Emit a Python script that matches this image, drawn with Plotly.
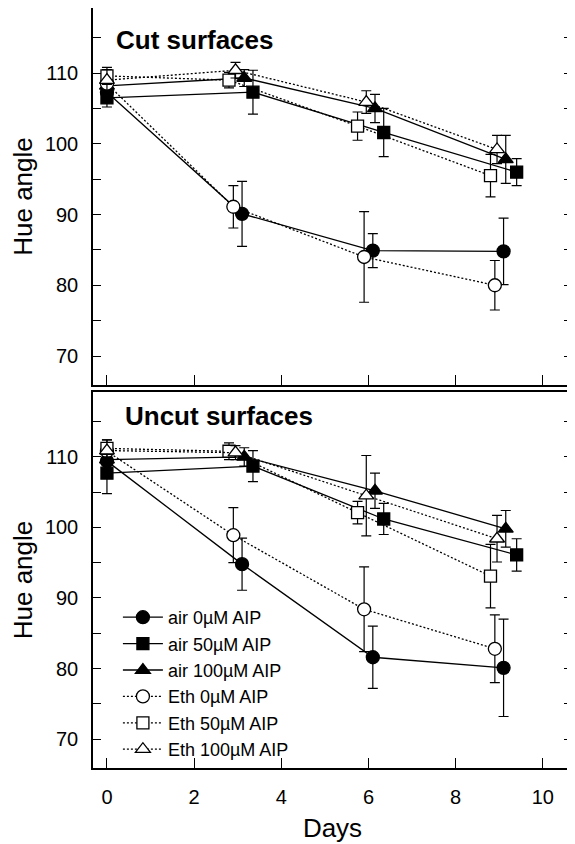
import plotly.graph_objects as go

# ---------------- data ----------------
series_names = ["air 0µM AIP", "air 50µM AIP", "air 100µM AIP",
                "Eth 0µM AIP", "Eth 50µM AIP", "Eth 100µM AIP"]

# days (slightly offset per series as in the original)
days_air0 = [0, 3.1, 6.1, 9.1]
days_air50 = [0, 3.35, 6.35, 9.4]
days_air100 = [0, 3.15, 6.15, 9.15]
days_eth0 = [0, 2.9, 5.9, 8.9]
days_eth50 = [0, 2.8, 5.75, 8.8]
days_eth100 = [0, 2.95, 5.95, 8.95]

# Cut surfaces
cut_air0 = [107.3, 90.1, 84.9, 84.8]
cut_air0_se = [1.5, 4.6, 2.4, 4.7]
cut_air50 = [106.5, 107.3, 101.6, 96.0]
cut_air50_se = [1.3, 3.1, 3.4, 1.9]
cut_air100 = [108.2, 109.3, 105.0, 97.8]
cut_air100_se = [1.2, 1.2, 2.0, 3.4]
cut_eth0 = [108.5, 91.1, 84.0, 80.0]
cut_eth0_se = [1.0, 3.0, 6.4, 3.5]
cut_eth50 = [109.6, 109.0, 102.5, 95.5]
cut_eth50_se = [1.2, 1.1, 2.0, 3.0]
cut_eth100 = [109.0, 110.4, 105.9, 99.2]
cut_eth100_se = [1.5, 1.1, 1.6, 2.0]

# Uncut surfaces
uncut_air0 = [109.4, 94.8, 81.6, 80.1]
uncut_air0_se = [1.5, 3.7, 4.4, 6.9]
uncut_air50 = [107.7, 108.7, 101.2, 96.1]
uncut_air50_se = [2.9, 2.2, 2.2, 2.3]
uncut_air100 = [109.6, 110.0, 105.2, 99.8]
uncut_air100_se = [1.5, 1.3, 2.5, 2.6]
uncut_eth0 = [110.8, 98.9, 88.4, 82.8]
uncut_eth0_se = [1.2, 3.9, 6.0, 4.8]
uncut_eth50 = [111.2, 110.8, 102.1, 93.1]
uncut_eth50_se = [1.2, 1.2, 1.6, 4.5]
uncut_eth100 = [110.9, 110.6, 104.5, 98.4]
uncut_eth100_se = [1.5, 1.0, 5.7, 3.3]

y_ticks = [70, 80, 90, 100, 110]
y_minor = [75, 85, 95, 105, 115]
x_ticks = [0, 2, 4, 6, 8, 10]

FONT = "Arial, 'Liberation Sans', Helvetica, sans-serif"

styles = [
    dict(symbol="circle", fill="black", dash="solid"),
    dict(symbol="square", fill="black", dash="solid"),
    dict(symbol="triangle-up", fill="black", dash="solid"),
    dict(symbol="circle", fill="white", dash="2px,2px"),
    dict(symbol="square", fill="white", dash="2px,2px"),
    dict(symbol="triangle-up", fill="white", dash="2px,2px"),
]
sizes = [13, 12, 13, 13, 12, 13]

days_all = [days_air0, days_air50, days_air100, days_eth0, days_eth50, days_eth100]
cut_all = [(cut_air0, cut_air0_se), (cut_air50, cut_air50_se), (cut_air100, cut_air100_se),
           (cut_eth0, cut_eth0_se), (cut_eth50, cut_eth50_se), (cut_eth100, cut_eth100_se)]
uncut_all = [(uncut_air0, uncut_air0_se), (uncut_air50, uncut_air50_se), (uncut_air100, uncut_air100_se),
             (uncut_eth0, uncut_eth0_se), (uncut_eth50, uncut_eth50_se), (uncut_eth100, uncut_eth100_se)]

fig = go.Figure()

for panel, data, xa, ya in [("cut", cut_all, "x", "y"), ("uncut", uncut_all, "x2", "y2")]:
    for i, (vals, se) in enumerate(data):
        st = styles[i]
        fig.add_trace(go.Scatter(
            x=days_all[i], y=vals, xaxis=xa, yaxis=ya,
            mode="lines+markers",
            name=series_names[i],
            showlegend=(panel == "uncut"),
            line=dict(color="black", width=1.3, dash=st["dash"]),
            marker=dict(symbol=st["symbol"], size=sizes[i], color=st["fill"],
                        line=dict(color="black", width=1.3)),
            error_y=dict(type="data", array=se, visible=True, color="black",
                         thickness=1.2, width=5),
        ))

# geometry (the page body adds an 8px offset, so the figure is 8px smaller)
OFF = 8
FW, FH = 575 - OFF, 844 - OFF
L, T = 93 - OFF, 8 - OFF
R = FW - (572 - OFF)
B = FH - (768 - OFF)
H = FH - T - B
W = FW - L - R
top_dom = [(768 - 385) / H, 1.0]
bot_dom = [0.0, (768 - 392) / H]

yaxis_common = dict(
    range=[65.9, 119.2], tickvals=y_ticks, ticks="inside", ticklen=8, tickwidth=1.2,
    tickcolor="black", showline=True, linecolor="black", linewidth=1.5, mirror="ticks",
    showgrid=False, zeroline=False, automargin=False,
    minor=dict(tickvals=y_minor, ticks="inside", ticklen=8, tickwidth=1.2, tickcolor="black"),
    tickfont=dict(family=FONT, size=20, color="black"), ticklabelstandoff=9,
    title=dict(text="Hue angle", font=dict(family=FONT, size=26, color="black"), standoff=17),
)
xaxis_common = dict(
    range=[-0.32, 10.67], tickvals=x_ticks, ticks="inside", ticklen=10, tickwidth=1.2,
    tickcolor="black", showline=True, linecolor="black", linewidth=1.5, mirror=True,
    showgrid=False, zeroline=False, automargin=False,
    tickfont=dict(family=FONT, size=20, color="black"),
)

fig.update_layout(
    width=FW, height=FH,
    margin=dict(l=L, r=R, t=T, b=B),
    paper_bgcolor="white", plot_bgcolor="white",
    font=dict(family=FONT, color="black"),
    xaxis=dict(xaxis_common, domain=[0, 1], anchor="y", showticklabels=False),
    yaxis=dict(yaxis_common, domain=top_dom, anchor="x"),
    xaxis2=dict(xaxis_common, domain=[0, 1], anchor="y2", ticklabelstandoff=10,
                title=dict(text="Days", font=dict(family=FONT, size=26, color="black"), standoff=12)),
    yaxis2=dict(yaxis_common, domain=bot_dom, anchor="x2"),
    legend=dict(x=0.052, y=(768 - 599) / H, xanchor="left", yanchor="top",
                font=dict(family=FONT, size=18, color="black"),
                bgcolor="rgba(0,0,0,0)", itemwidth=40, tracegroupgap=0),
    annotations=[
        dict(text="<b>Cut surfaces</b>", xref="paper", yref="paper",
             x=(114 - 93) / W, y=(768 - 39.5) / H, xanchor="left", yanchor="middle",
             showarrow=False, font=dict(family=FONT, size=26, color="black")),
        dict(text="<b>Uncut surfaces</b>", xref="paper", yref="paper",
             x=(123 - 93) / W, y=(768 - 416) / H, xanchor="left", yanchor="middle",
             showarrow=False, font=dict(family=FONT, size=26, color="black")),
    ],
)

fig.write_html("out.html")
